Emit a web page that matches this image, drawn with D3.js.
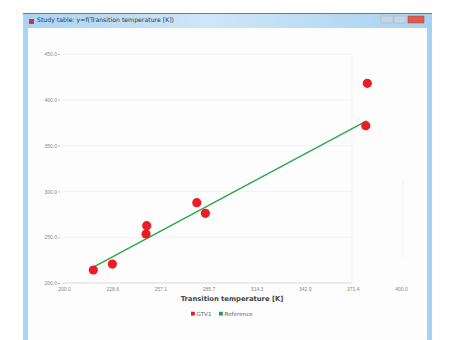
<!DOCTYPE html>
<html><head><meta charset="utf-8">
<script src="https://cdn.jsdelivr.net/npm/d3@7"></script>
<style>body{margin:0;background:#fff;} svg{display:block;font-family:"DejaVu Sans",sans-serif;}</style>
</head><body>
<script>
const gtvX = [217.4, 228.7, 249.1, 248.7, 278.8, 283.9, 380.0, 379.1];
const gtvY = [214.2, 220.7, 262.6, 253.5, 287.7, 276.1, 418.0, 371.7];
const refX = [217.4, 379.6];
const refY = [217.4, 377.0];
const xTicks = [200.0, 228.6, 257.1, 285.7, 314.3, 342.9, 371.4, 400.0];
const yTicks = [200.0, 250.0, 300.0, 350.0, 400.0, 450.0];
const windowTitle = "Study table: y=f(Transition temperature [K])";
const xTitle = "Transition temperature [K]";
const legendLabels = ["GTV1", "Reference"];
const legendColors = ["#e0202a", "#1f9a5a"];

const W = 449, H = 340;
const svg = d3.select("body").append("svg").attr("width", W).attr("height", H);

// window frame
const defs = svg.append("defs");
const g1 = defs.append("linearGradient").attr("id","tb").attr("x1",0).attr("y1",0).attr("x2",1).attr("y2",0);
g1.append("stop").attr("offset","0%").attr("stop-color","#a9d4f2");
g1.append("stop").attr("offset","45%").attr("stop-color","#cfe6f7");
g1.append("stop").attr("offset","100%").attr("stop-color","#a6d2f1");
svg.append("rect").attr("x",23).attr("y",13).attr("width",409).attr("height",H-13).attr("fill","url(#tb)");
svg.append("line").attr("x1",23).attr("x2",432).attr("y1",13.5).attr("y2",13.5).attr("stroke","#6a7a88").attr("stroke-width",1);
svg.append("rect").attr("x",28).attr("y",28).attr("width",399).attr("height",H-28).attr("fill","#fdfdfd");
// icon
svg.append("rect").attr("x",29).attr("y",19).attr("width",5).attr("height",5).attr("fill","#d9304a");
svg.append("text").attr("x",37).attr("y",22).attr("font-size",6.2).attr("fill","#333").text(windowTitle);
// buttons
svg.append("rect").attr("x",381).attr("y",16).attr("width",12).attr("height",7).attr("fill","#c4d6e6").attr("stroke","#9fb5c8").attr("stroke-width",0.5);
svg.append("rect").attr("x",394).attr("y",16).attr("width",12).attr("height",7).attr("fill","#c4d6e6").attr("stroke","#9fb5c8").attr("stroke-width",0.5);
svg.append("rect").attr("x",408).attr("y",16).attr("width",16).attr("height",7).attr("fill","#dd5a50").attr("stroke","#b84038").attr("stroke-width",0.5);

const x = d3.scaleLinear().domain([200, 400]).range([64, 401]);
const y = d3.scaleLinear().domain([200, 450]).range([283, 54]);

// grid
const gridG = svg.append("g");
gridG.selectAll("line").data(yTicks).join("line")
  .attr("x1", 63).attr("x2", 352).attr("y1", d => y(d)).attr("y2", d => y(d))
  .attr("stroke", d => d === 200 ? "#cfcfcf" : "#eeeeee").attr("stroke-width", 0.8);
svg.append("line").attr("x1",352).attr("x2",352).attr("y1",y(450)).attr("y2",y(200)).attr("stroke","#f3f3f3");
svg.append("line").attr("x1",403).attr("x2",403).attr("y1",180).attr("y2",258).attr("stroke","#f3f3f3");

// y axis
const yAxis = d3.axisLeft(y).tickValues(yTicks).tickFormat(d3.format(".1f")).tickSize(2).tickPadding(1);
const ya = svg.append("g").attr("transform","translate(60,0)").call(yAxis);
ya.select(".domain").remove();
ya.selectAll("line").attr("stroke","#bbb");
ya.selectAll("text").attr("font-size",5).attr("fill","#888");

// x axis
const xAxis = d3.axisBottom(x).tickValues(xTicks).tickFormat(d3.format(".1f")).tickSize(0).tickPadding(4);
const xa = svg.append("g").attr("transform","translate(0,283)").call(xAxis);
xa.select(".domain").remove();
xa.selectAll("text").attr("font-size",5).attr("fill","#888");

svg.append("text").attr("x",232).attr("y",301).attr("text-anchor","middle")
  .attr("font-size",6.8).attr("font-weight","bold").attr("fill","#444").text(xTitle);

// reference line
svg.append("path").datum(d3.range(refX.length))
  .attr("d", d3.line().x(i => x(refX[i])).y(i => y(refY[i])))
  .attr("stroke", "#2aa84a").attr("stroke-width", 1.4).attr("fill","none");

// points
svg.append("g").selectAll("circle").data(d3.range(gtvX.length)).join("circle")
  .attr("cx", i => x(gtvX[i])).attr("cy", i => y(gtvY[i])).attr("r", 4.6)
  .attr("fill", "#ec1c24");

// legend
const lg = svg.append("g").attr("transform","translate(191,315)");
const offs = [0, 28];
legendLabels.forEach((l, i) => {
  lg.append("rect").attr("x", offs[i]).attr("y", -3.2).attr("width", 3.8).attr("height", 3.8).attr("fill", legendColors[i]);
  lg.append("text").attr("x", offs[i] + 5.5).attr("y", 1).attr("font-size", 5.6).attr("fill", "#666").text(l);
});
</script>
</body></html>
